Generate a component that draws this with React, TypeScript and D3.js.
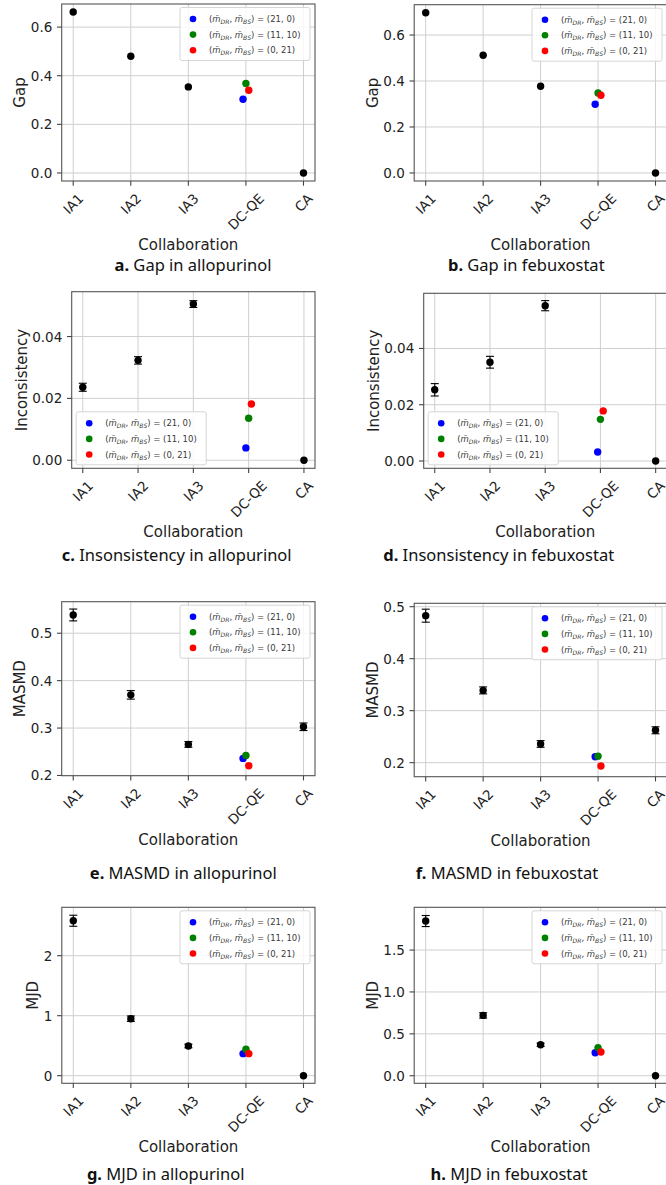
import React from 'react';
import * as d3 from 'd3';

// ---------- data ----------
const categories = ['IA1', 'IA2', 'IA3', 'DC-QE', 'CA'];
const baselineIdx = [0, 1, 2, 4]; // IA1, IA2, IA3, CA
const dcqeIdx = 3;
const dcqeLegend = ['(21, 0)', '(11, 10)', '(0, 21)'];
const dcqeColors = ['blue', 'green', 'red'];
const dcqeOffsets = [-0.05, 0, 0.05];

const gapAllo = [0.662, 0.48, 0.354, 0.0];
const gapAlloErr = [0, 0, 0, 0];
const gapAlloDC = [0.303, 0.368, 0.34];

const gapFebu = [0.697, 0.512, 0.377, 0.0];
const gapFebuErr = [0, 0, 0, 0];
const gapFebuDC = [0.299, 0.348, 0.338];

const incAllo = [0.0236, 0.0323, 0.0505, 0.0];
const incAlloErr = [0.0013, 0.0012, 0.0011, 0];
const incAlloDC = [0.004, 0.0136, 0.0182];

const incFebu = [0.0253, 0.0351, 0.0552, 0.0];
const incFebuErr = [0.0022, 0.0021, 0.0018, 0];
const incFebuDC = [0.0032, 0.0148, 0.0178];

const masmdAllo = [0.5385, 0.37, 0.2655, 0.3027];
const masmdAlloErr = [0.0125, 0.009, 0.006, 0.008];
const masmdAlloDC = [0.236, 0.2423, 0.2206];

const masmdFebu = [0.4827, 0.339, 0.236, 0.2623];
const masmdFebuErr = [0.0125, 0.0067, 0.0064, 0.0067];
const masmdFebuDC = [0.2115, 0.2125, 0.1937];

const mjdAllo = [2.583, 0.95, 0.495, 0.0];
const mjdAlloErr = [0.092, 0.045, 0.03, 0];
const mjdAlloDC = [0.367, 0.44, 0.367];

const mjdFebu = [1.846, 0.72, 0.37, 0.0];
const mjdFebuErr = [0.066, 0.032, 0.02, 0];
const mjdFebuDC = [0.275, 0.334, 0.283];

const ticksGap = [0, 0.2, 0.4, 0.6];
const ticksInc = [0, 0.02, 0.04];
const ticksMasmd = [0.2, 0.3, 0.4, 0.5];
const ticksMjdAllo = [0, 1, 2];
const ticksMjdFebu = [0, 0.5, 1.0, 1.5];

// ---------- layout ----------
const panels = [
  { l: 61.7, r: 315, t: 4, b: 181, dom: [-0.033, 0.695], ticks: ticksGap, fmt: '.1f', ylab: 'Gap',
    vals: gapAllo, err: gapAlloErr, dc: gapAlloDC, legend: 'ur', cap: ['a.', ' Gap in allopurinol'], cx: 193, cy: 266.7 },
  { l: 414.2, r: 667, t: 4.7, b: 181, dom: [-0.035, 0.732], ticks: ticksGap, fmt: '.1f', ylab: 'Gap',
    vals: gapFebu, err: gapFebuErr, dc: gapFebuDC, legend: 'ur', cap: ['b.', ' Gap in febuxostat'], cx: 526.3, cy: 267.3 },
  { l: 71.7, r: 315, t: 291.7, b: 468.3, dom: [-0.0026, 0.0545], ticks: ticksInc, fmt: '.2f', ylab: 'Inconsistency',
    vals: incAllo, err: incAlloErr, dc: incAlloDC, legend: 'll', cap: ['c.', ' Insonsistency in allopurinol'], cx: 176.7, cy: 556.7 },
  { l: 423.7, r: 666.7, t: 293.3, b: 468.3, dom: [-0.0026, 0.0596], ticks: ticksInc, fmt: '.2f', ylab: 'Inconsistency',
    vals: incFebu, err: incFebuErr, dc: incFebuDC, legend: 'll', cap: ['d.', ' Insonsistency in febuxostat'], cx: 498.7, cy: 556.7 },
  { l: 61.7, r: 315, t: 601.7, b: 775.7, dom: [0.1995, 0.5665], ticks: ticksMasmd, fmt: '.1f', ylab: 'MASMD',
    vals: masmdAllo, err: masmdAlloErr, dc: masmdAlloDC, legend: 'ur', cap: ['e.', ' MASMD in allopurinol'], cx: 183.3, cy: 875 },
  { l: 414.2, r: 667, t: 603.3, b: 776.7, dom: [0.173, 0.5065], ticks: ticksMasmd, fmt: '.1f', ylab: 'MASMD',
    vals: masmdFebu, err: masmdFebuErr, dc: masmdFebuDC, legend: 'ur', cap: ['f.', ' MASMD in febuxostat'], cx: 507, cy: 875 },
  { l: 61.8, r: 315, t: 907.3, b: 1083.3, dom: [-0.127, 2.807], ticks: ticksMjdAllo, fmt: 'd', ylab: 'MJD',
    vals: mjdAllo, err: mjdAlloErr, dc: mjdAlloDC, legend: 'ur', cap: ['g.', ' MJD in allopurinol'], cx: 165.7, cy: 1176.2 },
  { l: 414.2, r: 667, t: 907.3, b: 1083.3, dom: [-0.09, 2.01], ticks: ticksMjdFebu, fmt: '.1f', ylab: 'MJD',
    vals: mjdFebu, err: mjdFebuErr, dc: mjdFebuDC, legend: 'ur', cap: ['h.', ' MJD in febuxostat'], cx: 509, cy: 1176.2 },
];

const AX_FONT = 'DejaVu Sans';
const TICK_SIZE = 13.5;
const LABEL_SIZE = 15;
const TEXT_COL = '#222';
const CAP_SIZE = 16.5;

let ctx: CanvasRenderingContext2D | null = null;
function textW(s: string, size: number) {
  if (!ctx && typeof document !== 'undefined') ctx = document.createElement('canvas').getContext('2d');
  if (!ctx) return s.length * size * 0.6;
  ctx.font = `${size}px "${AX_FONT}"`;
  return ctx.measureText(s).width;
}

function LegendLabel({ x, y, val }: { x: number; y: number; val: string }) {
  const fs = 8.5;
  const sub = 6;
  return (
    <text x={x} y={y} fontFamily={AX_FONT} fontSize={fs} fill="#3a3a3a" dominantBaseline="central">
      <tspan>(</tspan>
      <tspan fontStyle="italic">{'m\u0304'}</tspan>
      <tspan fontStyle="italic" fontSize={sub} dy={2}>DR</tspan>
      <tspan dy={-2}>{', '}</tspan>
      <tspan fontStyle="italic">{'m\u0304'}</tspan>
      <tspan fontStyle="italic" fontSize={sub} dy={2}>BS</tspan>
      <tspan dy={-2}>{') = ' + val}</tspan>
    </text>
  );
}

function Panel({ p }: { p: any }) {
  const x = d3.scaleLinear().domain([-0.2, categories.length - 1 + 0.2]).range([p.l, p.r]);
  const y = d3.scaleLinear().domain(p.dom).range([p.b, p.t]);
  const fmt = d3.format(p.fmt);
  const tickLen = 4.7;
  const pad = 4.7;
  const h = TICK_SIZE * 1.164;
  const maxTickW = Math.max(...p.ticks.map((t: number) => textW(fmt(t), TICK_SIZE)));
  const ylabX = p.l - tickLen - pad - maxTickW - 5.5;
  const midY = (p.t + p.b) / 2;

  const lw = 130;
  const lh = 53;
  let lx: number, ly: number;
  if (p.legend === 'ur') {
    lx = p.r - 5 - lw;
    ly = p.t + 3.5;
  } else {
    lx = p.l + 4.5;
    ly = p.b - 3.5 - lh;
  }
  const r = 3.7;

  return (
    <g>
      {/* grid */}
      {categories.map((c, i) => (
        <line key={'gx' + c} x1={x(i)} x2={x(i)} y1={p.t} y2={p.b} stroke="#cfcfcf" strokeWidth={1} />
      ))}
      {p.ticks.map((t: number) => (
        <line key={'gy' + t} x1={p.l} x2={p.r} y1={y(t)} y2={y(t)} stroke="#cfcfcf" strokeWidth={1} />
      ))}
      {/* frame */}
      <rect x={p.l} y={p.t} width={p.r - p.l} height={p.b - p.t} fill="none" stroke="#555" strokeWidth={1.1} />
      {/* x ticks */}
      {categories.map((c, i) => {
        const w = textW(c, TICK_SIZE);
        const cxp = x(i);
        const cyp = p.b + tickLen + pad + (w + h) / (2 * Math.SQRT2);
        return (
          <g key={'xt' + c}>
            <line x1={cxp} x2={cxp} y1={p.b} y2={p.b + tickLen} stroke="#444" strokeWidth={1.1} />
            <text x={cxp} y={cyp} textAnchor="middle" dominantBaseline="central" fontFamily={AX_FONT}
              fontSize={TICK_SIZE} fill={TEXT_COL} transform={`rotate(-45 ${cxp} ${cyp})`}>{c}</text>
          </g>
        );
      })}
      {/* y ticks */}
      {p.ticks.map((t: number) => (
        <g key={'yt' + t}>
          <line x1={p.l - tickLen} x2={p.l} y1={y(t)} y2={y(t)} stroke="#444" strokeWidth={1.1} />
          <text x={p.l - tickLen - pad} y={y(t)} textAnchor="end" dominantBaseline="central" fontFamily={AX_FONT}
            fontSize={TICK_SIZE} fill={TEXT_COL}>{fmt(t)}</text>
        </g>
      ))}
      {/* axis labels */}
      <text x={ylabX} y={midY} textAnchor="middle" fontFamily={AX_FONT} fontSize={LABEL_SIZE} fill={TEXT_COL}
        transform={`rotate(-90 ${ylabX} ${midY})`}>{p.ylab}</text>
      <text x={(p.l + p.r) / 2} y={p.b + 64} textAnchor="middle" dominantBaseline="central" fontFamily={AX_FONT}
        fontSize={LABEL_SIZE} fill={TEXT_COL}>Collaboration</text>
      {/* baseline points with error bars */}
      {baselineIdx.map((ci, k) => {
        const cxp = x(ci);
        const v = p.vals[k];
        const e = p.err[k];
        return (
          <g key={'pt' + ci}>
            {e > 0 && (
              <g stroke="#000" strokeWidth={1.1}>
                <line x1={cxp} x2={cxp} y1={y(v - e)} y2={y(v + e)} />
                <line x1={cxp - 4} x2={cxp + 4} y1={y(v - e)} y2={y(v - e)} />
                <line x1={cxp - 4} x2={cxp + 4} y1={y(v + e)} y2={y(v + e)} />
              </g>
            )}
            <circle cx={cxp} cy={y(v)} r={r} fill="#000" />
          </g>
        );
      })}
      {/* DC-QE variants */}
      {p.dc.map((v: number, k: number) => (
        <circle key={'dc' + k} cx={x(dcqeIdx + dcqeOffsets[k])} cy={y(v)} r={r} fill={dcqeColors[k]} />
      ))}
      {/* legend */}
      <rect x={lx} y={ly} width={lw} height={lh} rx={2} fill="#fff" fillOpacity={0.85} stroke="#d6d6d6" strokeWidth={1} />
      {dcqeLegend.map((val, k) => {
        const yy = ly + 11.5 + k * 15.6;
        return (
          <g key={'lg' + k}>
            <circle cx={lx + 13} cy={yy} r={3.3} fill={dcqeColors[k]} />
            <LegendLabel x={lx + 29} y={yy} val={val} />
          </g>
        );
      })}
      {/* caption */}
      <text x={p.cx} y={p.cy + 4} textAnchor="middle" fontFamily="Noto Sans" fontSize={CAP_SIZE} fill="#111">
        <tspan fontWeight="bold">{p.cap[0]}</tspan>
        <tspan>{p.cap[1]}</tspan>
      </text>
    </g>
  );
}

export default function App() {
  return (
    <svg width={666} height={1185} viewBox="0 0 666 1185"
      style={{ position: 'absolute', left: 0, top: 0, background: '#fff', display: 'block' }}>
      <rect x={0} y={0} width={666} height={1185} fill="#fff" />
      {panels.map((p, i) => (
        <Panel key={i} p={p} />
      ))}
    </svg>
  );
}
